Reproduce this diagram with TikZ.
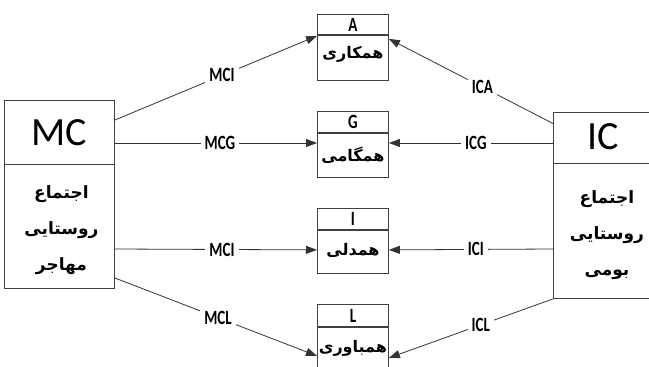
\documentclass[tikz,border=0pt]{standalone}
\usepackage{fontspec}
\usepackage{graphicx}
\setmainfont{Carlito}
\newfontfamily\arabicfont[Script=Arabic]{DejaVu Sans}
\TeXXeTstate=1
\usetikzlibrary{arrows.meta,calc}
\newcommand\tallt[1]{\scalebox{1}[1.35]{#1}}
\newcommand\ar[1]{\beginR #1\endR}

\begin{document}
\begin{tikzpicture}[x=1pt,y=-1pt,
  frame/.style={draw=black!75, line width=0.9pt, inner sep=0pt, anchor=north west},
  link/.style={draw=black!80, line width=0.8pt, -{Triangle[length=11pt,width=8pt]}},
  lbl/.style={fill=white, inner xsep=4pt, inner ysep=1pt,
    font=\fontsize{15}{15}\selectfont\bfseries},
  headtxt/.style={font=\fontsize{15}{15}\selectfont\bfseries},
  bodytxt/.style={font=\arabicfont\bfseries\fontsize{16}{18}\selectfont},
  sidetxt/.style={font=\arabicfont\bfseries\fontsize{17}{36}\selectfont, align=center},
  bigtxt/.style={font=\fontsize{40}{40}\selectfont}
  ]
\useasboundingbox (0,0) rectangle (649,367);

% community boxes
\node[frame, minimum width=110pt, minimum height=64pt] (mchead) at (4,100) {};
\node[frame, minimum width=110pt, minimum height=124pt] (mcbody) at (4,164) {};
\node[frame, minimum width=99pt, minimum height=51pt] (ichead) at (553,112) {};
\node[frame, minimum width=99pt, minimum height=135pt] (icbody) at (553,163) {};
\node[bigtxt] (mct) at (mchead.center) {MC};
\node[bigtxt] (ict) at ([yshift=1pt]ichead.center) {IC};
\node[sidetxt] (mcx) at ([xshift=2pt,yshift=-4pt]mcbody.center)
  {\ar{اجتماع}\\\ar{روستایی}\\\ar{مهاجر}};
\node[sidetxt] (icx) at ([xshift=4pt,yshift=-4pt]icbody.center)
  {\ar{اجتماع}\\\ar{روستایی}\\\ar{بومی}};

% outcome boxes: head letter over a Persian term
\foreach \n/\y/\h/\b/\L in {a/14/20/45/A, g/111/21/44/G, i/208/21/43/I, l/304/22/66/L}{
  \node[frame, minimum width=71pt, minimum height=\h pt] (\n h) at (317,\y) {};
  \node[frame, minimum width=71pt, minimum height=\b pt, anchor=north west]
    (\n b) at (\n h.south west) {};
  \node[headtxt] at (\n h.center) {\tallt{\L}};
}
\node[bodytxt] (at) at ([yshift=-19pt]ab.north) {\ar{همکاری}};
\node[bodytxt] (gt) at ([yshift=-22pt]gb.north) {\ar{همگامی}};
\node[bodytxt] (it) at ([yshift=-21pt]ib.north) {\ar{همدلی}};
\node[bodytxt] (lt) at ([yshift=-21pt]lb.north) {\ar{همباوری}};

% connectors from the two communities
\draw[link] ([yshift=-20pt]mchead.north east) -- node[lbl, pos=0.53] {\tallt{MCI}} ([yshift=-1pt]ab.north west);
\draw[link] ([yshift=-43pt]mchead.north east) -- node[lbl, pos=0.52] {\tallt{MCG}} ([yshift=-32pt]gh.north west);
\draw[link] ([yshift=-85pt]mcbody.north east) -- node[lbl, pos=0.53] {\tallt{MCI}} ([yshift=-20pt]ib.north west);
\draw[link] ([yshift=-114pt]mcbody.north east) -- node[lbl, pos=0.51] {\tallt{MCL}} ([yshift=-29pt]lb.north west);

\draw[link] ([yshift=-11.5pt]ichead.north west) -- node[lbl, pos=0.43] {\tallt{ICA}} ([yshift=-4pt]ab.north east);
\draw[link] ([yshift=-31pt]ichead.north west) -- node[lbl, pos=0.47] {\tallt{ICG}} ([yshift=-32pt]gh.north east);
\draw[link] ([yshift=-86pt]icbody.north west) -- node[lbl, pos=0.47] {\tallt{ICI}} ([yshift=-20pt]ib.north east);
\draw[link] (icbody.south west) -- node[lbl, pos=0.44] {\tallt{ICL}} ([yshift=-31pt]lb.north east);
\end{tikzpicture}
\end{document}
